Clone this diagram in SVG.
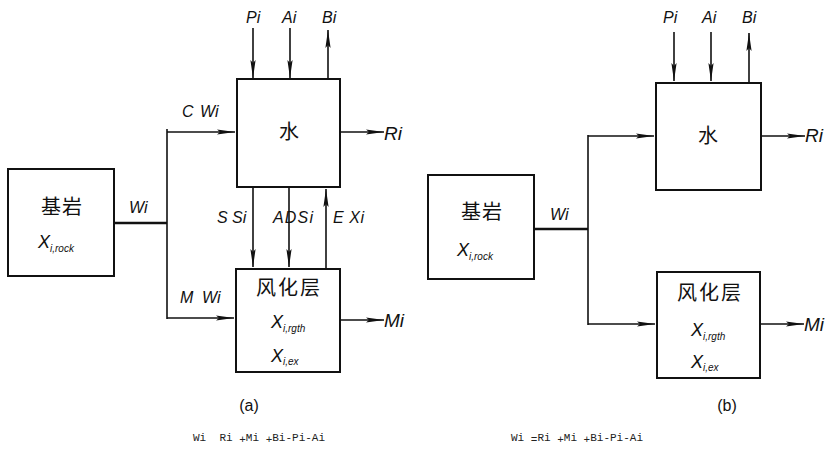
<svg xmlns="http://www.w3.org/2000/svg" width="827" height="451" viewBox="0 0 827 451">
<style>
.box{fill:#fff;stroke:#111;stroke-width:2}
.ln{fill:none;stroke:#111;stroke-width:1.6}
.thick{fill:none;stroke:#111;stroke-width:2.4}
.arr{fill:none;stroke:#111;stroke-width:1.6;marker-end:url(#ah)}
.lb{font-family:"Liberation Sans",Arial,sans-serif;font-style:italic;font-size:16px;fill:#111}
.lbb{font-family:"Liberation Sans",Arial,sans-serif;font-style:italic;font-size:19px;fill:#111}
.cn{font-family:"Noto Sans CJK SC","Liberation Sans",sans-serif;font-size:20px;fill:#111}
.xv{font-family:"Liberation Sans",Arial,sans-serif;font-style:italic;font-size:18px;fill:#111}
.sub{font-size:10px}
.cap{font-family:"Liberation Sans",Arial,sans-serif;font-size:16px;fill:#111}
.eq{font-family:"Liberation Mono","Courier New",monospace;font-size:11px;fill:#222;white-space:pre}
</style>
<defs>
<marker id="ah" markerUnits="userSpaceOnUse" markerWidth="20" markerHeight="8" refX="18" refY="4" orient="auto">
<path d="M0,1.4 L18,4 L0,6.6 L3,4 z" fill="#111"/>
</marker>
</defs>
<rect width="827" height="451" fill="#fff"/>

<!-- Left diagram (a) -->
<g id="a-bedrock">
<rect class="box" x="8" y="169" width="106" height="107"/>
<text class="cn" x="62" y="214" text-anchor="middle" letter-spacing="1">基岩</text>
<text class="xv" x="38" y="248">X<tspan class="sub" dy="4">i,rock</tspan></text>
</g>
<g id="a-water">
<rect class="box" x="237" y="79" width="103" height="108"/>
<text class="cn" x="289" y="139" text-anchor="middle" font-size="18">水</text>
</g>
<g id="a-weathered">
<rect class="box" x="236" y="269" width="104" height="103"/>
<text class="cn" x="289" y="295" text-anchor="middle" letter-spacing="2">风化层</text>
<text class="xv" x="271" y="328">X<tspan class="sub" dy="4">i,rgth</tspan></text>
<text class="xv" x="271" y="362">X<tspan class="sub" dy="3">i,ex</tspan></text>
</g>
<g id="a-connectors">
<path class="thick" d="M114,223 H167"/>
<path class="ln" d="M167,129 V319"/>
<path class="arr" d="M167,132 H235"/>
<path class="arr" d="M167,318 H234"/>
<path class="arr" d="M253,28 V78"/>
<path class="arr" d="M290,28 V78"/>
<path class="arr" d="M328,79 V30"/>
<path class="arr" d="M340,132 H384"/>
<path class="arr" d="M253,187 V267"/>
<path class="arr" d="M289,187 V267"/>
<path class="arr" d="M326,269 V189"/>
<path class="arr" d="M340,320 H384"/>
</g>
<g id="a-labels">
<text class="lb" x="246" y="23">Pi</text>
<text class="lb" x="282" y="23">Ai</text>
<text class="lb" x="322" y="23">Bi</text>
<text class="lb" x="182" y="117">C</text>
<text class="lb" x="200" y="117">Wi</text>
<text class="lbb" x="384" y="140">Ri</text>
<text class="lb" x="129" y="213">Wi</text>
<text class="lb" x="217" y="223">S Si</text>
<text class="lb" x="273" y="223" textLength="40" lengthAdjust="spacing">ADSi</text>
<text class="lb" x="333" y="223" textLength="31" lengthAdjust="spacing">E Xi</text>
<text class="lb" x="180" y="303">M</text>
<text class="lb" x="202" y="303">Wi</text>
<text class="lbb" x="384" y="327">Mi</text>
<text class="cap" x="249" y="411" text-anchor="middle">(a)</text>
<text class="eq" x="193" y="441" xml:space="preserve">Wi  Ri <tspan dy="2">+</tspan><tspan dy="-2">Mi </tspan><tspan dy="2">+</tspan><tspan dy="-2">Bi-Pi-Ai</tspan></text>
</g>

<!-- Right diagram (b) -->
<g id="b-bedrock">
<rect class="box" x="428" y="175" width="106" height="104"/>
<text class="cn" x="482" y="219" text-anchor="middle" letter-spacing="1">基岩</text>
<text class="xv" x="457" y="256">X<tspan class="sub" dy="4">i,rock</tspan></text>
</g>
<g id="b-water">
<rect class="box" x="656" y="83" width="105" height="107"/>
<text class="cn" x="708" y="143" text-anchor="middle" font-size="18">水</text>
</g>
<g id="b-weathered">
<rect class="box" x="657" y="272" width="103" height="106"/>
<text class="cn" x="710" y="300" text-anchor="middle" letter-spacing="2">风化层</text>
<text class="xv" x="691" y="336">X<tspan class="sub" dy="4">i,rgth</tspan></text>
<text class="xv" x="691" y="368">X<tspan class="sub" dy="3">i,ex</tspan></text>
</g>
<g id="b-connectors">
<path class="thick" d="M534,229 H588"/>
<path class="ln" d="M588,135 V325"/>
<path class="arr" d="M588,136 H654"/>
<path class="arr" d="M588,324 H655"/>
<path class="arr" d="M674,32 V81"/>
<path class="arr" d="M711,32 V81"/>
<path class="arr" d="M749,83 V33"/>
<path class="arr" d="M761,136 H805"/>
<path class="arr" d="M760,324 H804"/>
</g>
<g id="b-labels">
<text class="lb" x="663" y="23">Pi</text>
<text class="lb" x="702" y="23">Ai</text>
<text class="lb" x="742" y="23">Bi</text>
<text class="lbb" x="805" y="142">Ri</text>
<text class="lb" x="550" y="220">Wi</text>
<text class="lbb" x="804" y="331">Mi</text>
<text class="cap" x="727" y="411" text-anchor="middle">(b)</text>
<text class="eq" x="511" y="441" xml:space="preserve" textLength="132" lengthAdjust="spacingAndGlyphs">Wi <tspan dy="2">=</tspan><tspan dy="-2">Ri </tspan><tspan dy="2">+</tspan><tspan dy="-2">Mi </tspan><tspan dy="2">+</tspan><tspan dy="-2">Bi-Pi-Ai</tspan></text>
</g>
</svg>
